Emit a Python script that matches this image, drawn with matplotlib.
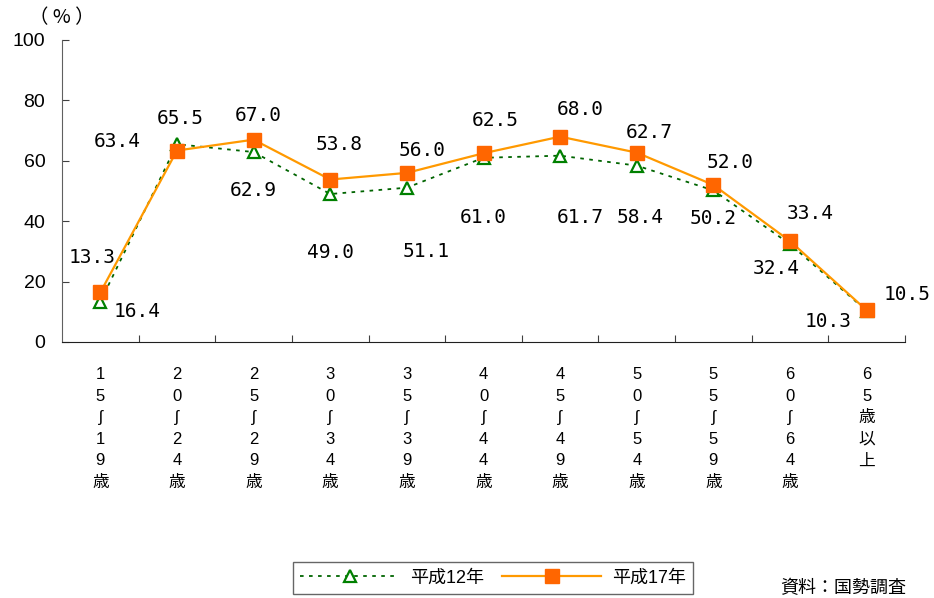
import matplotlib

matplotlib.use("Agg")

import matplotlib.pyplot as plt  # noqa: E402

plt.rcParams["font.family"] = ["Liberation Sans", "Noto Sans CJK JP", "DejaVu Sans"]

# data
ages = ["1\n5\nʃ\n1\n9\n歳", "2\n0\nʃ\n2\n4\n歳", "2\n5\nʃ\n2\n9\n歳", "3\n0\nʃ\n3\n4\n歳",
        "3\n5\nʃ\n3\n9\n歳", "4\n0\nʃ\n4\n4\n歳", "4\n5\nʃ\n4\n9\n歳", "5\n0\nʃ\n5\n4\n歳",
        "5\n5\nʃ\n5\n9\n歳", "6\n0\nʃ\n6\n4\n歳", "6\n5\n歳\n以\n上"]
h12 = [13.3, 65.5, 62.9, 49.0, 51.1, 61.0, 61.7, 58.4, 50.2, 32.4, 10.3]
h17 = [16.4, 63.4, 67.0, 53.8, 56.0, 62.5, 68.0, 62.7, 52.0, 33.4, 10.5]
series_names = ["平成12年", "平成17年"]

# label offsets in pixels (layout only)
off12 = [(-8, 44), (3, 26), (0, -38), (0, -58), (19, -64), (0, -60),
         (20, -62), (3, -52), (0, -28), (-14, -24), (-39, -11)]
off17 = [(37, -19), (-60, 9), (5, 24), (9, 35), (15, 22), (12, 33),
         (20, 27), (12, 20), (17, 22), (20, 28), (40, 16)]

fig = plt.figure(figsize=(9.34, 5.98), dpi=100)
ax = fig.add_axes([62 / 934, 1 - 342 / 598, 843 / 934, 302 / 598])

x = list(range(len(ages)))
ax.plot(x, h12, color="#006400", lw=1.3, ls=(0, (2, 3)), marker="^", ms=9,
        mfc="white", mec="#008000", mew=1.6, label=series_names[0], zorder=3)
ax.plot(x, h17, color="#FF9900", lw=1.6, marker="s", ms=10,
        mfc="#FF6600", mec="#FF6600", label=series_names[1], zorder=4)

for xi, v, o in zip(x, h12, off12):
    ax.annotate(f"{v:.1f}", (xi, v), xytext=o, textcoords="offset pixels",
                ha="center", va="center", fontsize=14, family="DejaVu Sans Mono")
for xi, v, o in zip(x, h17, off17):
    ax.annotate(f"{v:.1f}", (xi, v), xytext=o, textcoords="offset pixels",
                ha="center", va="center", fontsize=14, family="DejaVu Sans Mono",
                annotation_clip=False)

ax.set_xlim(-0.5, len(ages) - 0.5)
ax.set_ylim(0, 100)
ax.set_yticks(range(0, 101, 20))
ax.tick_params(axis="y", direction="in", length=5, labelsize=14, pad=12, color="#404040")
ax.set_xticks([i + 0.5 for i in range(len(ages))])
ax.set_xticklabels([])
ax.set_xticks(x, minor=True)
ax.set_xticklabels(ages, minor=True, fontsize=12, va="top", linespacing=1.55,
                   family=["Liberation Sans", "Noto Sans CJK JP", "DejaVu Sans"])
ax.tick_params(axis="x", which="major", direction="in", length=5, color="#404040")
ax.tick_params(axis="x", which="minor", length=0, pad=18)
for s in ["top", "right"]:
    ax.spines[s].set_visible(False)
ax.spines["left"].set_color("#606060")
ax.spines["bottom"].set_color("#202020")

fig.text(62 / 934, 1 - 18 / 598, "（ % ）", ha="center", va="center", fontsize=14,
         family=["Noto Sans CJK JP"])

leg = fig.legend(loc="center", bbox_to_anchor=(493 / 934, 1 - 578 / 598), ncol=2,
                 frameon=True, fancybox=False, edgecolor="#404040",
                 handlelength=5.5, columnspacing=1.0, handletextpad=0.6,
                 borderpad=0.4, prop={"family": ["Liberation Sans", "Noto Sans CJK JP"], "size": 13})
leg.get_frame().set_linewidth(1.0)

fig.text(780 / 934, 1 / 598, "資料：国勢調査", ha="left", va="bottom", fontsize=13,
         family=["Noto Sans CJK JP"])

fig.savefig("out.png", dpi=100)
